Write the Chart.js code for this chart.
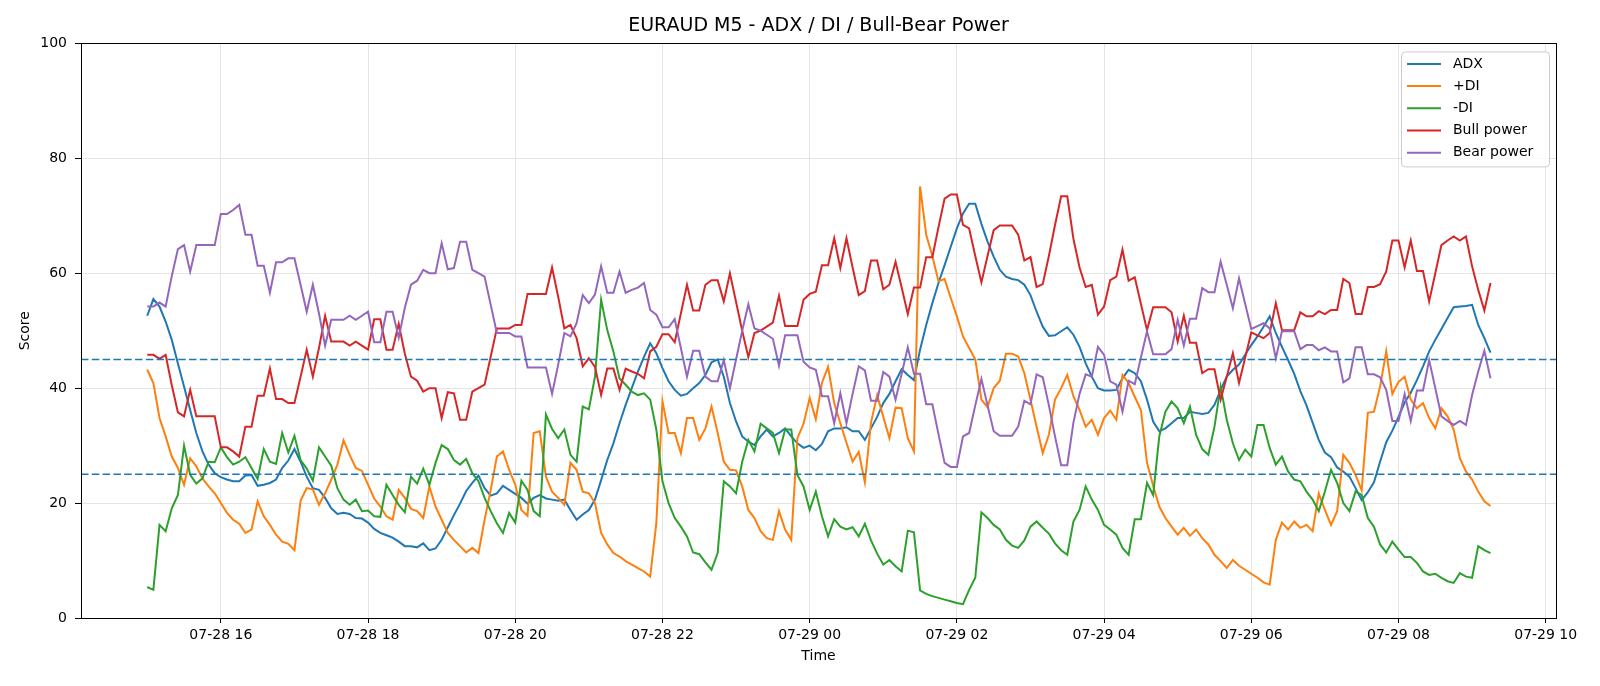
<!DOCTYPE html>
<html>
<head>
<meta charset="utf-8">
<title>EURAUD M5 - ADX / DI / Bull-Bear Power</title>
<script src="https://cdn.jsdelivr.net/npm/chart.js@4.4.1/dist/chart.umd.min.js"></script>
<style>
  html, body { margin: 0; padding: 0; background: #fff; }
  #chart { display: block; }
</style>
</head>
<body>
<canvas id="chart" width="1600" height="686"></canvas>
<script>
// M5 bars from 07-28 15:00, x measured in hours since 07-28 00:00
var startHour = 15;
var stepMinutes = 5;

var adx = [
  52.6, 55.5, 54.2, 51.6, 48.4, 44.3, 40.3, 36.2, 32.2, 29, 26.7, 25.2, 24.5, 24.1, 23.8, 23.8, 24.8, 24.9, 23, 23.2,
  23.5, 24.1, 26.1, 27.4, 29.4, 27.2, 24.6, 22.6, 22.3, 20.9, 19.1, 18.1, 18.3, 18.1, 17.4, 17.3, 16.6, 15.5,
  14.8, 14.4, 14, 13.3, 12.5, 12.5, 12.3, 13, 11.8, 12.1, 13.6, 15.8, 17.9, 19.9, 22.1, 23.5, 24.8, 22.6, 21.3, 21.7,
  23, 22.3, 21.6, 20.9, 19.9, 20.9, 21.4, 20.8, 20.6, 20.4, 20.6, 18.8, 17.1, 18, 18.8, 20.6,
  24, 27.5, 30.4, 33.9, 37.1, 40, 42.9, 45.5, 47.8, 46.1, 43.5, 41.2, 39.7, 38.7, 39, 40, 40.9, 42.3, 44.5, 45,
  42, 37.4, 34.2, 31.6, 30.7, 30.1, 31.6, 32.8, 31.6, 32.2, 33, 31.6, 30.4, 29.6, 30, 29.2, 30.3, 32.5,
  33, 33, 33.2, 32.5, 32.5, 31, 33, 35, 37.4, 39, 41.2, 43.3, 42.3, 41.4, 46.7, 51, 54.8, 58.3, 61.4, 64.6,
  67.8, 70.4, 72.1, 72.1, 68.6, 65.5, 62.9, 60.6, 59.4, 59, 58.8, 58, 56.2, 53.3, 50.7, 49.1, 49.2,
  49.9, 50.6, 49.3, 47.2, 44.3, 42, 40, 39.6, 39.6, 39.7, 41.7, 43.2, 42.6, 41.2, 38, 34.2, 32.5, 33, 33.9, 34.8,
  34.8, 35.9, 35.7, 35.5, 35.7, 37.1, 39.7, 42, 43.2, 44.1, 45.8, 47.5, 49, 50.7, 52.5, 49.6, 47.2, 44.9,
  42.5, 39.5, 37, 34, 31, 28.8, 28, 26.2, 25.5, 24.6, 22.6, 20.5, 21.9, 23.6, 27.2, 30.6, 32.6, 35, 37.5, 39.2,
  41.4, 43.8, 46.4, 48.4, 50.3, 52.2, 54.1, 54.2, 54.3, 54.5, 51, 48.7, 46.2
];

var plusDI = [
  43.2, 40.9, 34.8, 31.6, 28.1, 26.1, 23.2, 27.8, 26.4, 24.3, 22.9, 21.7, 20, 18.3, 17.1, 16.4, 14.8, 15.4, 20.3, 17.7,
  16.2, 14.5, 13.3, 12.9, 11.8, 20.4, 22.6, 22.4, 19.7, 21.7, 24.1, 26.7, 30.9, 28.4, 26.1, 25.6, 23.2, 20.8,
  19.4, 17.7, 17.1, 22.3, 20.9, 19, 18.6, 17.4, 22.9, 19.4, 17.1, 14.8, 13.6, 12.5, 11.4, 12.2, 11.3, 17.1, 22.3, 28.1,
  29, 25.8, 23.2, 18.8, 17.8, 32.2, 32.5, 24.6, 22, 20.9, 19.7, 27, 25.8, 22, 21.7, 20,
  14.8, 12.8, 11.3, 10.7, 9.9, 9.3, 8.7, 8.1, 7.2, 16.5, 37.7, 32.2, 32.2, 28.7, 34.8, 34.8, 31, 33, 36.8, 32.2,
  27.2, 25.8, 25.7, 22.9, 18.8, 17.4, 15.1, 13.9, 13.6, 18.6, 15.4, 13.6, 31.3, 33.8, 38.3, 34.6, 40.9, 43.7,
  37.4, 33.9, 30.5, 27.2, 28.9, 23.6, 34, 38.8, 35, 31.3, 36.6, 36.5, 31.3, 29, 75.1, 66.7, 63, 58.6, 59, 55.7,
  52.5, 49, 47, 45, 38, 36.7, 40, 41.3, 46, 46, 45.5, 42.6, 38, 33.3, 28.7, 31.9, 38,
  40, 42.3, 38.6, 36.2, 33.3, 34.5, 31.9, 34.8, 36.1, 34.5, 42.3, 40.9, 38.5, 36.2, 27, 23, 19.4, 17.4, 15.9, 14.5,
  15.7, 14.3, 15.4, 13.9, 12.8, 11, 9.9, 8.7, 10.1, 9.1, 8.4, 7.7, 7, 6.2, 5.8, 13.6, 16.6, 15.4,
  16.8, 15.7, 16.2, 15.1, 21.7, 18.8, 16.2, 18.6, 28.4, 27, 24.9, 22.2, 35.7, 35.9, 40.3, 46.4, 39, 41.1, 42, 38,
  36.5, 37.4, 34.8, 33, 36.5, 35.1, 32.8, 27.8, 25.5, 24.1, 22, 20.3, 19.5
];

var minusDI = [
  5.4, 4.9, 16.2, 15.1, 19.1, 21.4, 30, 24.9, 23.4, 24.3, 27.2, 27.1, 29.7, 28, 26.7, 27.2, 28, 26.1, 24.2, 29.4,
  27.2, 26.8, 32.2, 28.8, 31.7, 27.5, 26, 23.9, 29.7, 28.1, 26.5, 22.6, 20.6, 19.7, 20.6, 18.6, 18.7, 17.7,
  17.6, 23.2, 21.4, 19.7, 18.4, 24.6, 23.4, 26, 23.2, 27, 30.1, 29.4, 27.5, 26.7, 27.7, 25.2, 23.8, 20.9, 18.6, 16.5,
  14.8, 18.3, 16.6, 23.9, 22.3, 18.6, 17.7, 35.4, 32.9, 31.3, 32.8, 28.4, 27.2, 36.8, 36.3, 42,
  55.4, 50.1, 46.4, 41.7, 40.6, 39.4, 38.8, 39.1, 38, 32.8, 23.8, 20, 17.4, 15.9, 14.2, 11.4, 11.1, 9.7, 8.4, 11.3,
  23.8, 22.9, 21.7, 27.2, 31, 29, 33.8, 33, 32.2, 28.7, 32.8, 32.8, 24.9, 22.9, 18.8, 22, 17.7, 14.2,
  17.2, 15.9, 15.4, 15.8, 14.2, 16.4, 13.5, 11.2, 9.3, 10.1, 9, 8.1, 15.2, 14.9, 4.8, 4.2, 3.8, 3.5, 3.2, 2.9,
  2.6, 2.4, 4.9, 7, 18.4, 17.4, 16.2, 15.4, 13.6, 12.6, 12.2, 13.5, 15.9, 16.8, 15.7, 14.7, 13,
  11.8, 11, 16.8, 18.8, 22.9, 20.6, 18.8, 16.2, 15.4, 14.5, 12.2, 11, 17.2, 17.2, 23.5, 21.4, 31.6, 35.9, 37.7, 36.5,
  33.9, 36.8, 31.9, 29.4, 28.4, 33.3, 40.3, 34.5, 30.4, 27.5, 29.3, 28.1, 33.6, 33.6, 29.6, 26.7, 28.1, 25.5,
  24.1, 23.8, 22, 20.6, 18.6, 22, 25.8, 23.5, 20, 18.6, 22, 21.4, 17.4, 15.9, 12.8, 11.4, 13.3, 11.9, 10.6, 10.6,
  9.6, 8.1, 7.5, 7.7, 7, 6.4, 6.1, 7.8, 7.2, 7, 12.5, 11.8, 11.3
];

var bullPower = [
  45.8, 45.8, 45.1, 45.8, 40.5, 35.8, 35.1, 39.7, 35.1, 35.1, 35.1, 35.1, 29.7, 29.7, 29, 28.1, 33.3, 33.3, 38.7, 38.7,
  43.4, 38.1, 38.1, 37.4, 37.4, 42, 46.7, 42, 47, 52.6, 48.1, 48.1, 48.1, 47.4, 48.1, 47.4, 46.7, 52,
  52, 46.7, 46.7, 51.2, 46, 42, 41.3, 39.4, 40, 40, 34.8, 39.3, 39.1, 34.5, 34.5, 39.4, 40, 40.6, 45.5, 50.4,
  50.4, 50.4, 51, 51, 56.4, 56.4, 56.4, 56.4, 61, 55.9, 50.4, 51, 48.7, 43.8, 45.2, 43.7,
  38.8, 43.4, 43.4, 39.7, 43.4, 42.9, 42.5, 41.7, 46.4, 47.2, 49.4, 49.4, 48, 53, 58, 53.5, 53.5, 58, 58.8, 58.8,
  55.1, 60, 55, 50, 45.4, 49.6, 50, 50.7, 51.4, 56.1, 50.8, 50.8, 50.8, 55.4, 56.4, 56.8, 61.4, 61.4,
  66.1, 60.9, 66.1, 61, 56.2, 56.9, 62.2, 62.2, 57.2, 58, 62, 57.5, 52.9, 57.5, 57.5, 62.8, 62.8, 68, 73, 73.7,
  73.7, 68.4, 67.8, 63, 58.4, 63, 67.5, 68.3, 68.3, 68.3, 66.7, 62.2, 62.8, 57.6, 58.1, 63, 68.4,
  73.4, 73.4, 66, 61, 57.6, 58, 52.8, 54.2, 58.8, 59.4, 64.1, 58.7, 59.3, 54.7, 50.1, 54.1, 54.1, 54.1, 53.2, 48.1,
  52.6, 47.9, 47.9, 42.6, 43.3, 43.3, 38, 42, 46.1, 40.9, 45.3, 49.7, 49.2, 48.7, 49.6, 54.8, 50.1, 50.1,
  50.1, 53.2, 52.5, 52.5, 53.4, 52.9, 53.6, 53.6, 59, 58.3, 52.9, 52.9, 57.6, 57.6, 58.1, 60.3, 65.7, 65.7, 61, 65.7,
  60.4, 60.4, 55.1, 60, 64.9, 65.7, 66.4, 65.7, 66.4, 61.2, 57.1, 53.5, 58.3
];

var bearPower = [
  54.2, 54.2, 54.9, 54.2, 59.5, 64.2, 64.9, 60.3, 64.9, 64.9, 64.9, 64.9, 70.3, 70.3, 71, 71.9, 66.7, 66.7, 61.3, 61.3,
  56.6, 61.9, 61.9, 62.6, 62.6, 58, 53.3, 58, 53, 47.4, 51.9, 51.9, 51.9, 52.6, 51.9, 52.6, 53.3, 48,
  48, 53.3, 53.3, 48.8, 54, 58, 58.7, 60.6, 60, 60, 65.2, 60.7, 60.9, 65.5, 65.5, 60.6, 60, 59.4, 54.5, 49.6,
  49.6, 49.6, 49, 49, 43.6, 43.6, 43.6, 43.6, 39, 44.1, 49.6, 49, 51.3, 56.2, 54.8, 56.3,
  61.2, 56.6, 56.6, 60.3, 56.6, 57.1, 57.5, 58.3, 53.6, 52.8, 50.6, 50.6, 52, 47, 42, 46.5, 46.5, 42, 41.2, 41.2,
  44.9, 40, 45, 50, 54.6, 50.4, 50, 49.3, 48.6, 43.9, 49.2, 49.2, 49.2, 44.6, 43.6, 43.2, 38.6, 38.6,
  33.9, 39.1, 33.9, 39, 43.8, 43.1, 37.8, 37.8, 42.8, 42, 38, 42.5, 47.1, 42.5, 42.5, 37.2, 37.2, 32, 27, 26.3,
  26.3, 31.6, 32.2, 37, 41.6, 37, 32.5, 31.7, 31.7, 31.7, 33.3, 37.8, 37.2, 42.4, 41.9, 37, 31.6,
  26.6, 26.6, 34, 39, 42.4, 42, 47.2, 45.8, 41.2, 40.6, 35.9, 41.3, 40.7, 45.3, 49.9, 45.9, 45.9, 45.9, 46.8, 51.9,
  47.4, 52.1, 52.1, 57.4, 56.7, 56.7, 62, 58, 53.9, 59.1, 54.7, 50.3, 50.8, 51.3, 50.4, 45.2, 49.9, 49.9,
  49.9, 46.8, 47.5, 47.5, 46.6, 47.1, 46.4, 46.4, 41, 41.7, 47.1, 47.1, 42.4, 42.4, 41.9, 39.7, 34.3, 34.3, 39, 34.3,
  39.6, 39.6, 44.9, 40, 35.1, 34.3, 33.6, 34.3, 33.6, 38.8, 42.9, 46.5, 41.7
];

var levels = [45, 25];
var hourTicks = [16, 18, 20, 22, 24, 26, 28, 30, 32, 34];

var times = [];
for (var i = 0; i < adx.length; i++) {
  times.push(startHour + i * stepMinutes / 60);
}

function pts(values) {
  return values.map(function (v, i) { return { x: times[i], y: v }; });
}

function timeLabel(v) {
  var day = v < 24 ? '07-28' : '07-29';
  var h = v % 24;
  return day + ' ' + (h < 10 ? '0' : '') + h;
}

var series = [
  { label: 'ADX', values: adx, color: '#1f77b4' },
  { label: '+DI', values: plusDI, color: '#ff7f0e' },
  { label: '-DI', values: minusDI, color: '#2ca02c' },
  { label: 'Bull power', values: bullPower, color: '#d62728' },
  { label: 'Bear power', values: bearPower, color: '#9467bd' }
];

var frame = {
  id: 'frame',
  afterDatasetsDraw: function (chart) {
    var ctx = chart.ctx, ca = chart.chartArea, y = chart.scales.y;
    ctx.save();
    ctx.strokeStyle = '#1f77b4';
    ctx.lineWidth = 1.5;
    ctx.setLineDash([7.5, 3.3]);
    levels.forEach(function (lv) {
      var py = y.getPixelForValue(lv);
      ctx.beginPath();
      ctx.moveTo(ca.left, py);
      ctx.lineTo(ca.right, py);
      ctx.stroke();
    });
    ctx.restore();
  },
  afterDraw: function (chart) {
    var ctx = chart.ctx, ca = chart.chartArea;
    ctx.save();
    ctx.strokeStyle = '#000';
    ctx.lineWidth = 1;
    ctx.strokeRect(Math.round(ca.left) + 0.5, Math.round(ca.top) + 0.5,
      Math.round(ca.right - ca.left), Math.round(ca.bottom - ca.top));

    // legend box, upper right
    var w = 148, rowH = 22.2;
    var bx = ca.right - 7 - w, by = ca.top + 8;
    var bh = series.length * rowH + 4;
    ctx.fillStyle = 'rgba(255,255,255,0.8)';
    ctx.strokeStyle = '#cccccc';
    ctx.beginPath();
    ctx.roundRect(bx + 0.5, by + 0.5, w, bh, 4);
    ctx.fill();
    ctx.stroke();
    ctx.font = '14px "DejaVu Sans"';
    ctx.textBaseline = 'middle';
    ctx.textAlign = 'left';
    series.forEach(function (s, k) {
      var ry = by + 12.5 + k * rowH;
      ctx.strokeStyle = s.color;
      ctx.lineWidth = 2;
      ctx.beginPath();
      ctx.moveTo(bx + 6, ry);
      ctx.lineTo(bx + 40, ry);
      ctx.stroke();
      ctx.fillStyle = '#000';
      ctx.fillText(s.label, bx + 52, ry);
    });
    ctx.restore();
  }
};

Chart.defaults.font.family = '"DejaVu Sans", sans-serif';
Chart.defaults.font.size = 14;
Chart.defaults.color = '#000';

var canvas = document.getElementById('chart').getContext('2d');
window.chart = new Chart(canvas, {
  type: 'line',
  data: {
    datasets: series.map(function (s, k) {
      return {
        label: s.label,
        data: pts(s.values),
        borderColor: s.color,
        backgroundColor: s.color,
        borderWidth: 2,
        pointRadius: 0,
        tension: 0,
        fill: false,
        order: series.length - k
      };
    })
  },
  options: {
    responsive: false,
    animation: false,
    devicePixelRatio: 1,
    layout: { padding: { left: 0, right: 44, top: 0, bottom: 0 } },
    plugins: {
      legend: { display: false },
      tooltip: { enabled: false },
      title: {
        display: true,
        text: 'EURAUD M5 - ADX / DI / Bull-Bear Power',
        fullSize: false,
        color: '#000',
        font: { size: 19, weight: 'normal' },
        padding: { top: 15, bottom: 5.6 }
      }
    },
    scales: {
      x: {
        type: 'linear',
        min: 14.1,
        max: 34.14,
        afterBuildTicks: function (scale) {
          scale.ticks = hourTicks.map(function (v) { return { value: v }; });
        },
        afterFit: function (scale) { scale.height = 68; },
        ticks: {
          autoSkip: false,
          maxRotation: 0,
          padding: 4,
          callback: function (v) { return timeLabel(v); }
        },
        grid: { color: '#e4e4e4', lineWidth: 1, tickLength: 5, tickColor: '#000' },
        border: { display: true, color: '#000' },
        title: { display: true, text: 'Time', padding: { top: 0, bottom: 21 } }
      },
      y: {
        min: 0,
        max: 100,
        afterFit: function (scale) { scale.width = 81; },
        ticks: { stepSize: 20, padding: 8 },
        grid: { color: '#e4e4e4', lineWidth: 1, tickLength: 6, tickColor: '#000' },
        border: { display: true, color: '#000' },
        title: { display: true, text: 'Score', padding: { top: 17, bottom: 0 } }
      }
    }
  },
  plugins: [frame]
});
</script>
</body>
</html>
